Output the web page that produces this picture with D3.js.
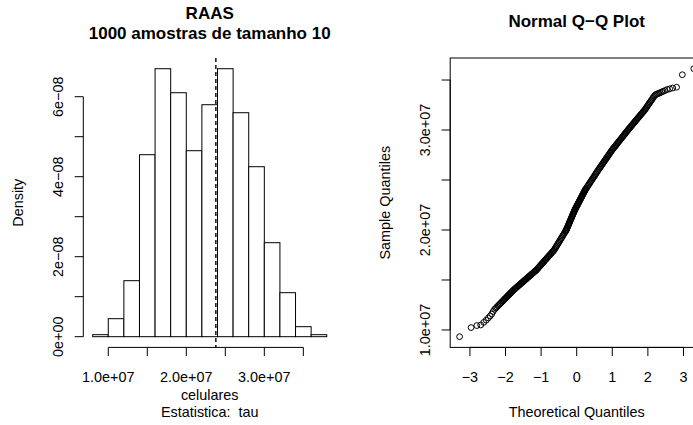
<!DOCTYPE html>
<html><head><meta charset="utf-8">
<script src="https://cdn.jsdelivr.net/npm/d3@7"></script>
<style>
body{margin:0;background:#fff}
svg text{font-family:"Liberation Sans",Arial,Helvetica,sans-serif;fill:#000}
</style></head><body>
<svg id="c" width="693" height="425"></svg>
<script>
// ---------- data ----------
const histBreaks = [0.8e7,1.0e7,1.2e7,1.4e7,1.6e7,1.8e7,2.0e7,2.2e7,2.4e7,2.6e7,2.8e7,3.0e7,3.2e7,3.4e7,3.6e7,3.8e7];
const histCounts = [1,9,28,91,134,122,93,116,134,112,85,47,22,5,1];
const sampleSize = 1000;
const tauValue = 2.379e7;
const histXTicks = [1.0e7,1.5e7,2.0e7,2.5e7,3.0e7,3.5e7];
const histXLabels = ["1.0e+07","","2.0e+07","","3.0e+07",""];
const histYTicks = [0,1e-8,2e-8,3e-8,4e-8,5e-8,6e-8];
const histYLabels = ["0e+00","","2e\u221208","","4e\u221208","","6e\u221208"];

// Q-Q points: theoretical quantile, sample quantile (in units of 1e7)
const qqTheoretical = [
-3.291,-2.968,-2.807,-2.697,-2.612,-2.543,-2.484,-2.432,-2.387,-2.346,-2.308,-2.273,-2.241,-2.211,-2.183,-2.157,-2.132,-2.108,-2.086,-2.064,-2.043,-2.023,-2.004,
-1.98,-1.96,-1.94,-1.92,-1.90,-1.88,-1.86,-1.84,-1.82,-1.80,-1.78,
-1.76,-1.74,-1.72,-1.70,-1.68,-1.66,-1.64,-1.62,-1.60,-1.58,-1.56,-1.54,-1.52,-1.50,-1.48,-1.46,-1.44,-1.42,-1.40,-1.38,-1.36,-1.34,-1.32,-1.30,-1.28,-1.26,-1.24,-1.22,-1.20,-1.18,-1.16,-1.14,
-1.12,-1.10,-1.08,-1.06,-1.04,-1.02,-1.00,-0.98,-0.96,-0.94,-0.92,-0.90,-0.88,-0.86,-0.84,-0.82,-0.80,-0.78,-0.76,-0.74,-0.72,-0.70,-0.68,-0.66,-0.64,
-0.62,-0.60,-0.58,-0.56,-0.54,-0.52,-0.50,-0.48,-0.46,-0.44,-0.42,-0.40,-0.38,-0.36,-0.34,-0.32,-0.31,-0.30,
-0.29,-0.28,-0.27,-0.26,-0.25,-0.24,-0.23,-0.22,-0.21,-0.20,-0.19,-0.18,-0.17,-0.16,-0.15,-0.14,-0.13,-0.12,-0.11,-0.10,-0.09,-0.08,-0.07,-0.06,
-0.05,-0.04,-0.03,-0.02,-0.01,0.00,0.01,0.02,0.03,0.04,0.05,0.06,0.07,0.08,0.09,0.10,0.11,0.12,0.13,0.14,0.15,0.16,0.17,0.18,0.19,0.20,0.21,0.22,0.23,
0.24,0.25,0.26,0.28,0.30,0.32,0.34,0.36,0.38,0.40,0.42,0.44,0.46,0.48,0.50,0.52,0.54,0.56,0.58,0.60,
0.62,0.64,0.66,0.68,0.70,0.72,0.74,0.76,0.78,0.80,0.82,0.84,0.86,0.88,0.90,0.92,0.94,0.96,0.98,
1.00,1.02,1.04,1.06,1.08,1.10,1.12,1.14,1.16,1.18,1.20,1.22,1.24,1.26,1.28,1.30,1.32,1.34,1.36,1.38,1.40,1.42,1.44,
1.46,1.48,1.50,1.52,1.54,1.56,1.58,1.60,1.62,1.64,1.66,1.68,1.70,1.72,1.74,1.76,1.78,1.80,1.82,1.84,1.86,1.88,1.90,
1.92,1.94,1.96,1.98,
2.004,2.023,2.043,2.064,2.086,2.108,2.132,2.157,2.183,2.211,2.241,2.273,2.308,2.346,2.387,2.432,2.484,2.543,2.612,2.697,2.807,2.968,3.291];
const qqSampleE7 = [
0.933,1.024,1.044,1.050,1.076,1.098,1.120,1.140,1.160,1.185,1.207,1.219,1.231,1.242,1.252,1.261,1.270,1.279,1.287,1.295,1.302,1.310,1.317,
1.325,1.332,1.340,1.347,1.354,1.361,1.369,1.376,1.383,1.390,1.398,
1.404,1.411,1.417,1.423,1.429,1.435,1.442,1.448,1.454,1.460,1.467,1.473,1.479,1.485,1.491,1.498,1.504,1.510,1.516,1.523,1.529,1.535,1.541,1.547,1.554,1.560,1.566,1.572,1.579,1.585,1.591,1.597,
1.604,1.612,1.621,1.629,1.637,1.645,1.653,1.661,1.669,1.677,1.685,1.693,1.701,1.709,1.717,1.725,1.733,1.741,1.749,1.757,1.765,1.773,1.781,1.789,1.797,
1.808,1.820,1.832,1.843,1.855,1.867,1.878,1.890,1.902,1.914,1.925,1.937,1.949,1.960,1.972,1.984,1.990,1.995,
2.002,2.010,2.019,2.027,2.035,2.044,2.052,2.061,2.069,2.078,2.086,2.095,2.103,2.111,2.120,2.128,2.137,2.145,2.154,2.162,2.170,2.179,2.187,2.196,
2.203,2.210,2.217,2.224,2.231,2.238,2.244,2.251,2.258,2.265,2.272,2.279,2.285,2.292,2.299,2.306,2.313,2.320,2.326,2.333,2.340,2.347,2.354,2.361,2.367,2.374,2.381,2.388,2.395,
2.401,2.407,2.412,2.423,2.434,2.444,2.455,2.466,2.477,2.488,2.499,2.509,2.520,2.531,2.542,2.553,2.564,2.575,2.585,2.596,
2.607,2.617,2.627,2.638,2.648,2.658,2.669,2.679,2.689,2.700,2.710,2.720,2.731,2.741,2.751,2.762,2.772,2.782,2.793,
2.803,2.812,2.821,2.830,2.839,2.847,2.856,2.865,2.874,2.883,2.892,2.901,2.910,2.919,2.928,2.937,2.946,2.955,2.964,2.973,2.982,2.991,3.000,
3.009,3.017,3.026,3.034,3.043,3.051,3.060,3.068,3.077,3.085,3.094,3.102,3.111,3.119,3.128,3.136,3.145,3.153,3.162,3.170,3.179,3.187,3.196,
3.205,3.215,3.225,3.236,
3.248,3.258,3.269,3.280,3.291,3.302,3.315,3.328,3.341,3.352,3.357,3.362,3.367,3.373,3.380,3.387,3.395,3.405,3.412,3.420,3.428,3.553,3.613];
const qqXTicks = [-3,-2,-1,0,1,2,3];
const qqXLabels = ["\u22123","\u22122","\u22121","0","1","2","3"];
const qqYTicks = [1.0e7,1.5e7,2.0e7,2.5e7,3.0e7,3.5e7];
const qqYLabels = ["1.0e+07","","2.0e+07","","3.0e+07",""];

// ---------- layout ----------
const svg = d3.select("#c");
const FS = 14.4, TFS = 17, TICK = 8.6;
const plotTop = 58, plotBottom = 347.4;
const left = {x0: 83.3, x1: 336.1};
const right = {x0: 450.2, x1: 703.2};
const pad = (lo, hi) => { const d = (hi - lo) * 0.04; return [lo - d, hi + d]; };

// ---------- histogram ----------
const bins = histCounts.map((c, i) => ({x0: histBreaks[i], x1: histBreaks[i+1], density: c / (sampleSize * (histBreaks[i+1] - histBreaks[i]))}));
const maxD = d3.max(bins, d => d.density);
const hx = d3.scaleLinear().domain(pad(histBreaks[0], histBreaks[histBreaks.length-1])).range([left.x0, left.x1]);
const hy = d3.scaleLinear().domain(pad(0, maxD)).range([plotBottom, plotTop]);

const gH = svg.append("g");
gH.selectAll("rect").data(bins).join("rect")
  .attr("x", d => hx(d.x0)).attr("width", d => hx(d.x1) - hx(d.x0))
  .attr("y", d => hy(d.density)).attr("height", d => hy(0) - hy(d.density))
  .attr("fill", "#fff").attr("stroke", "#000").attr("stroke-width", 1);

gH.append("line").attr("x1", hx(tauValue)).attr("x2", hx(tauValue))
  .attr("y1", plotTop).attr("y2", plotBottom)
  .attr("stroke", "#000").attr("stroke-width", 1.4).attr("stroke-dasharray", "4,3");

function bottomAxis(g, sc, ticks, labels, y) {
  g.append("line").attr("x1", sc(ticks[0])).attr("x2", sc(ticks[ticks.length-1]))
    .attr("y1", y).attr("y2", y).attr("stroke", "#000");
  g.selectAll(null).data(ticks).join("line")
    .attr("x1", d => sc(d)).attr("x2", d => sc(d)).attr("y1", y).attr("y2", y + TICK).attr("stroke", "#000");
  g.selectAll(null).data(ticks).join("text")
    .attr("x", d => sc(d)).attr("y", y + 34.1).attr("text-anchor", "middle")
    .style("font-size", FS + "px").text((d, i) => labels[i]);
}
function leftAxis(g, sc, ticks, labels, x) {
  g.append("line").attr("x1", x).attr("x2", x)
    .attr("y1", sc(ticks[0])).attr("y2", sc(ticks[ticks.length-1])).attr("stroke", "#000");
  g.selectAll(null).data(ticks).join("line")
    .attr("x1", x - TICK).attr("x2", x).attr("y1", d => sc(d)).attr("y2", d => sc(d)).attr("stroke", "#000");
  g.selectAll(null).data(ticks).join("text")
    .attr("transform", d => `translate(${x - 20},${sc(d)}) rotate(-90)`)
    .attr("text-anchor", "middle").style("font-size", FS + "px").text((d, i) => labels[i]);
}
bottomAxis(gH, hx, histXTicks, histXLabels, plotBottom);
leftAxis(gH, hy, histYTicks, histYLabels, left.x0);

const lcx = (left.x0 + left.x1) / 2;
gH.append("text").attr("x", lcx).attr("y", 19.4).attr("text-anchor", "middle")
  .style("font-size", TFS + "px").style("font-weight", "bold").text("RAAS");
gH.append("text").attr("x", lcx).attr("y", 38.5).attr("text-anchor", "middle")
  .style("font-size", TFS + "px").style("font-weight", "bold").text("1000 amostras de tamanho 10");
gH.append("text").attr("x", lcx).attr("y", 399.5).attr("text-anchor", "middle")
  .style("font-size", FS + "px").text("celulares");
gH.append("text").attr("x", lcx).attr("y", 417).attr("text-anchor", "middle")
  .style("font-size", FS + "px").style("white-space", "pre").text("Estatistica:  tau");
gH.append("text").attr("transform", `translate(${left.x0 - 60.3},${(plotTop + plotBottom) / 2}) rotate(-90)`)
  .attr("text-anchor", "middle").style("font-size", FS + "px").text("Density");

// ---------- Q-Q plot ----------
const qqPoints = qqTheoretical.map((t, i) => ({t, s: qqSampleE7[i] * 1e7})).filter(d => !isNaN(d.s));
const qx = d3.scaleLinear().domain(pad(d3.min(qqPoints, d => d.t), d3.max(qqPoints, d => d.t))).range([right.x0, right.x1]);
const qy = d3.scaleLinear().domain(pad(d3.min(qqPoints, d => d.s), d3.max(qqPoints, d => d.s))).range([plotBottom, plotTop]);
const gQ = svg.append("g");
gQ.append("rect").attr("x", right.x0).attr("y", plotTop)
  .attr("width", right.x1 - right.x0).attr("height", plotBottom - plotTop)
  .attr("fill", "none").attr("stroke", "#000");
gQ.selectAll("circle").data(qqPoints).join("circle")
  .attr("cx", d => qx(d.t)).attr("cy", d => qy(d.s)).attr("r", 2.9)
  .attr("fill", "none").attr("stroke", "#000").attr("stroke-width", 1);
bottomAxis(gQ, qx, qqXTicks, qqXLabels, plotBottom);
leftAxis(gQ, qy, qqYTicks, qqYLabels, right.x0);
const rcx = (right.x0 + right.x1) / 2;
gQ.append("text").attr("x", rcx).attr("y", 27).attr("text-anchor", "middle")
  .style("font-size", TFS + "px").style("font-weight", "bold").text("Normal Q\u2212Q Plot");
gQ.append("text").attr("x", rcx).attr("y", 417).attr("text-anchor", "middle")
  .style("font-size", FS + "px").text("Theoretical Quantiles");
gQ.append("text").attr("transform", `translate(${right.x0 - 60.3},${(plotTop + plotBottom) / 2}) rotate(-90)`)
  .attr("text-anchor", "middle").style("font-size", FS + "px").text("Sample Quantiles");
</script></body></html>
